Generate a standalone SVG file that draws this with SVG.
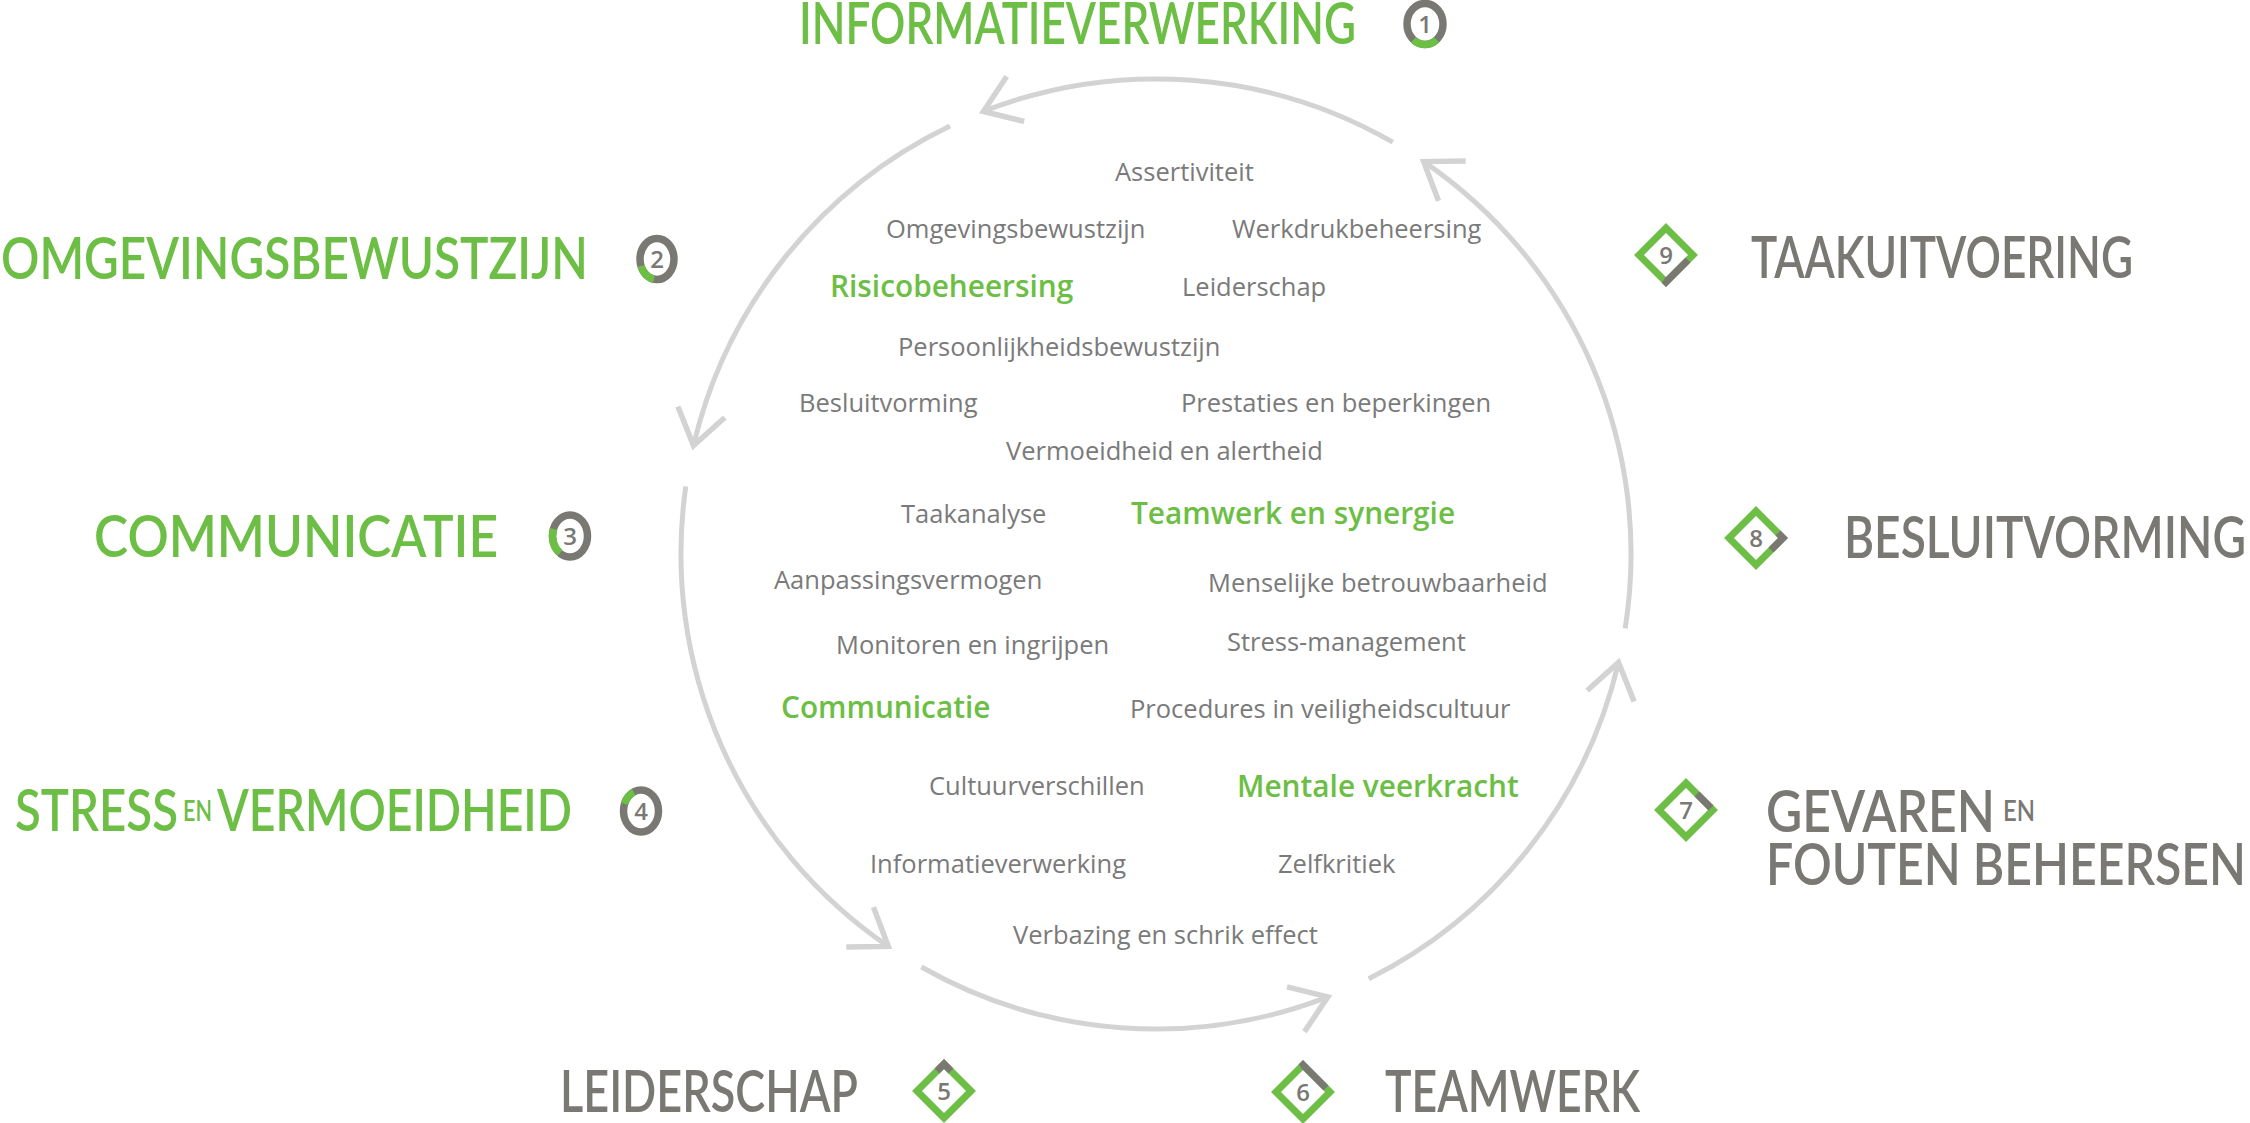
<svg xmlns="http://www.w3.org/2000/svg" width="2250" height="1123" viewBox="0 0 2250 1123">
<style>
.t{font-family:"Open Sans","Noto Sans","Liberation Sans",sans-serif;font-size:25.5px;fill:#7a7a7a}
.tg{font-family:"Open Sans","Noto Sans","Liberation Sans",sans-serif;font-size:29.8px;font-weight:600;fill:#6cbe45}
.hg{font-family:Lato,"Liberation Sans",sans-serif;font-weight:600;font-size:58px;fill:#6cbe45}
.hy{font-family:Lato,"Liberation Sans",sans-serif;font-weight:600;font-size:58px;fill:#7a7873}
.sm{font-size:28px}
.num{font-family:"Open Sans","Liberation Sans",sans-serif;font-size:24px;font-weight:600;fill:#7a7873;text-anchor:middle}
.ring{fill:none;stroke:#7a7873;stroke-width:7.5}
.rg{fill:none;stroke:#6cbe45;stroke-width:7.5}
.dia{fill:none;stroke:#6cbe45;stroke-width:7;stroke-linejoin:miter}
.dg{fill:none;stroke:#7a7873;stroke-width:7;stroke-linejoin:miter}
.arc{fill:none;stroke:#d3d3d3;stroke-width:5;marker-end:url(#chev)}
</style>
<defs>
<marker id="chev" markerUnits="userSpaceOnUse" orient="auto" markerWidth="70" markerHeight="70" viewBox="-50 -35 70 70" refX="0" refY="0" overflow="visible">
<path d="M -34.4 -24.1 L 0 0 L -34.4 24.1" fill="none" stroke="#d3d3d3" stroke-width="5.5"/>
</marker>
</defs>
<rect width="2250" height="1123" fill="#ffffff"/>

<g id="connectors">
<path class="arc" d="M 1392.8 142.2 A 475 475 0 0 0 983.4 111.4"/>
<path class="arc" d="M 950.0 126.0 A 475 475 0 0 0 693.5 445.5"/>
<path class="arc" d="M 685.8 486.3 A 475 475 0 0 0 888.3 946.4"/>
<path class="arc" d="M 921.4 967.0 A 475 475 0 0 0 1327.8 996.9"/>
<path class="arc" d="M 1368.7 978.7 A 475 475 0 0 0 1618.5 662.5"/>
<path class="arc" d="M 1625.2 628.3 A 475 475 0 0 0 1423.7 161.6"/>
</g>

<g id="topics">
<text class="t" x="1115" y="181">Assertiviteit</text>
<text class="t" x="886" y="238">Omgevingsbewustzijn</text>
<text class="t" x="1232" y="238">Werkdrukbeheersing</text>
<text class="tg" x="830" y="297">Risicobeheersing</text>
<text class="t" x="1182" y="296">Leiderschap</text>
<text class="t" x="898" y="356">Persoonlijkheidsbewustzijn</text>
<text class="t" x="799" y="412">Besluitvorming</text>
<text class="t" x="1181" y="412">Prestaties en beperkingen</text>
<text class="t" x="1006" y="460">Vermoeidheid en alertheid</text>
<text class="t" x="901" y="523">Taakanalyse</text>
<text class="tg" x="1131" y="524">Teamwerk en synergie</text>
<text class="t" x="774" y="589">Aanpassingsvermogen</text>
<text class="t" x="1208" y="592">Menselijke betrouwbaarheid</text>
<text class="t" x="836" y="654">Monitoren en ingrijpen</text>
<text class="t" x="1227" y="651">Stress-management</text>
<text class="tg" x="781" y="718">Communicatie</text>
<text class="t" x="1130" y="718">Procedures in veiligheidscultuur</text>
<text class="t" x="929" y="795">Cultuurverschillen</text>
<text class="tg" x="1237" y="797">Mentale veerkracht</text>
<text class="t" x="870" y="873">Informatieverwerking</text>
<text class="t" x="1278" y="873">Zelfkritiek</text>
<text class="t" x="1013" y="944">Verbazing en schrik effect</text>
</g>

<g id="node1">
<text class="hg" x="799" y="44" font-size="56" textLength="557" lengthAdjust="spacingAndGlyphs">INFORMATIEVERWERKING</text>
<ellipse class="ring" cx="1425" cy="24" rx="18" ry="20.5"/>
<path class="rg" d="M 1436.6 39.7 A 18 20.5 0 0 1 1413.4 39.7"/>
<text class="num" x="1425" y="32.5">1</text>
</g>

<g id="node2">
<text class="hg" x="1" y="279" textLength="587" lengthAdjust="spacingAndGlyphs">OMGEVINGSBEWUSTZIJN</text>
<ellipse class="ring" cx="657" cy="259" rx="17" ry="20.5"/>
<path class="rg" d="M 654.0 279.2 A 17 20.5 0 0 1 641.0 266.0"/>
<text class="num" x="657" y="267.5">2</text>
</g>

<g id="node3">
<text class="hg" x="94" y="557" textLength="404" lengthAdjust="spacingAndGlyphs">COMMUNICATIE</text>
<ellipse class="ring" cx="570" cy="536" rx="17.5" ry="21"/>
<path class="rg" d="M 559.96 553.2 A 17.5 21 0 0 1 553.56 528.8"/>
<text class="num" x="570" y="544.5">3</text>
</g>

<g id="node4">
<text class="hg" x="15" y="831" textLength="163" lengthAdjust="spacingAndGlyphs">STRESS</text>
<text class="hg sm" x="183" y="821" textLength="29" lengthAdjust="spacingAndGlyphs">EN</text>
<text class="hg" x="217" y="831" textLength="355" lengthAdjust="spacingAndGlyphs">VERMOEIDHEID</text>
<ellipse class="ring" cx="641" cy="811" rx="17.5" ry="21"/>
<path class="rg" d="M 624.56 803.82 A 17.5 21 0 0 1 633.6 791.97"/>
<text class="num" x="641" y="819.5">4</text>
</g>

<g id="node5">
<text class="hy" x="560" y="1112" textLength="298" lengthAdjust="spacingAndGlyphs">LEIDERSCHAP</text>
<path class="dia" d="M 944 1064 L 971 1091 L 944 1118 L 917 1091 Z"/>
<path class="dg" d="M 937 1071 L 944 1064 L 951 1071"/>
<text class="num" x="944" y="1099.5">5</text>
</g>

<g id="node6">
<path class="dia" d="M 1303 1065 L 1330 1092 L 1303 1119 L 1276 1092 Z"/>
<path class="dg" d="M 1301 1067 L 1303 1065 L 1326 1088"/>
<text class="num" x="1303" y="1100.5">6</text>
<text class="hy" x="1385" y="1112" textLength="255" lengthAdjust="spacingAndGlyphs">TEAMWERK</text>
</g>

<g id="node7">
<path class="dia" d="M 1686 783 L 1713 810 L 1686 837 L 1659 810 Z"/>
<path class="dg" d="M 1697 794 L 1711 808"/>
<text class="num" x="1686" y="818.5">7</text>
<text class="hy" x="1766" y="832" textLength="229" lengthAdjust="spacingAndGlyphs">GEVAREN</text>
<text class="hy sm" x="2003" y="821" textLength="32" lengthAdjust="spacingAndGlyphs">EN</text>
<text class="hy" x="1766" y="885" textLength="480" lengthAdjust="spacingAndGlyphs">FOUTEN BEHEERSEN</text>
</g>

<g id="node8">
<path class="dia" d="M 1756 511 L 1783 538 L 1756 565 L 1729 538 Z"/>
<path class="dg" d="M 1778 533 L 1783 538 L 1771 550"/>
<text class="num" x="1756" y="546.5">8</text>
<text class="hy" x="1844" y="558" textLength="402" lengthAdjust="spacingAndGlyphs">BESLUITVORMING</text>
</g>

<g id="node9">
<path class="dia" d="M 1666 228 L 1693 255 L 1666 282 L 1639 255 Z"/>
<path class="dg" d="M 1688 260 L 1666 282 L 1664 280"/>
<text class="num" x="1666" y="263.5">9</text>
<text class="hy" x="1751" y="278" textLength="382" lengthAdjust="spacingAndGlyphs">TAAKUITVOERING</text>
</g>
</svg>
